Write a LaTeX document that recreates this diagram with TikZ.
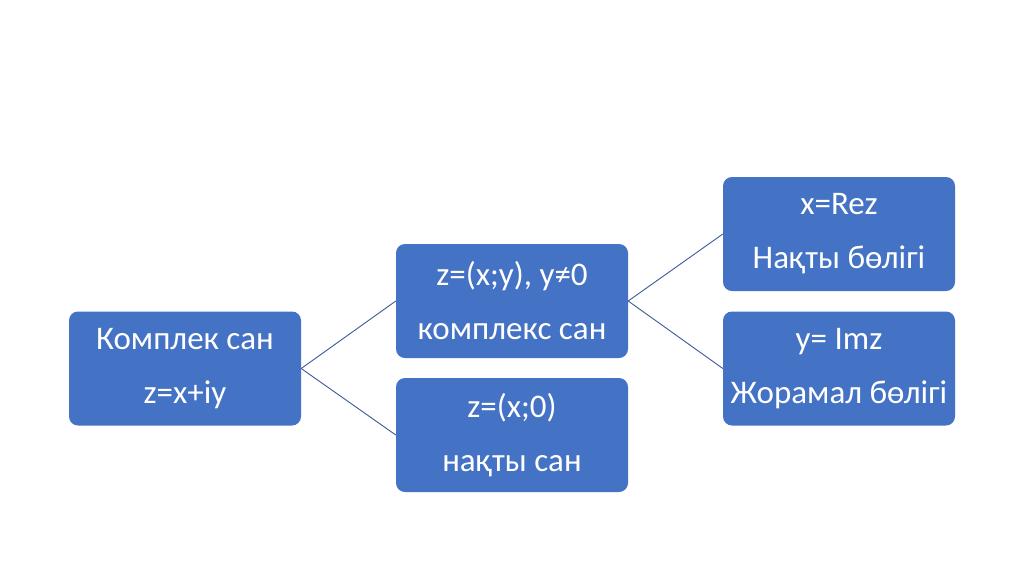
\documentclass[tikz,border=0pt]{standalone}
\usepackage{fontspec}
\setmainfont{Carlito}
\definecolor{boxblue}{RGB}{68,114,196}
\definecolor{lineblue}{RGB}{60,90,150}
\begin{document}
\begin{tikzpicture}[x=1pt,y=-1pt,
  blk/.style={draw=none,fill=boxblue,rounded corners=9pt,minimum width=232pt,minimum height=114pt,
    text=white,align=center,font=\fontsize{33}{54}\selectfont,inner sep=0pt},
  conn/.style={draw=lineblue,line width=0.9pt}]
\useasboundingbox[fill=white] (0,0) rectangle (1024,574);
\node[blk] (A) at (185,368.5) {Комплек сан\\z=x+iy};
\node[blk] (B) at (512,301) {z=(x;y), y≠0\\комплекс сан};
\node[blk] (C) at (512,435) {z=(x;0)\\нақты сан};
\node[blk] (D) at (839,234) {x=Rez\\Нақты бөлігі};
\node[blk] (E) at (839,368.5) {y= Imz\\Жорамал бөлігі};
\draw[conn] (A.east) -- (B.west);
\draw[conn] (A.east) -- (C.west);
\draw[conn] (B.east) -- (D.west);
\draw[conn] (B.east) -- (E.west);
\end{tikzpicture}
\end{document}
